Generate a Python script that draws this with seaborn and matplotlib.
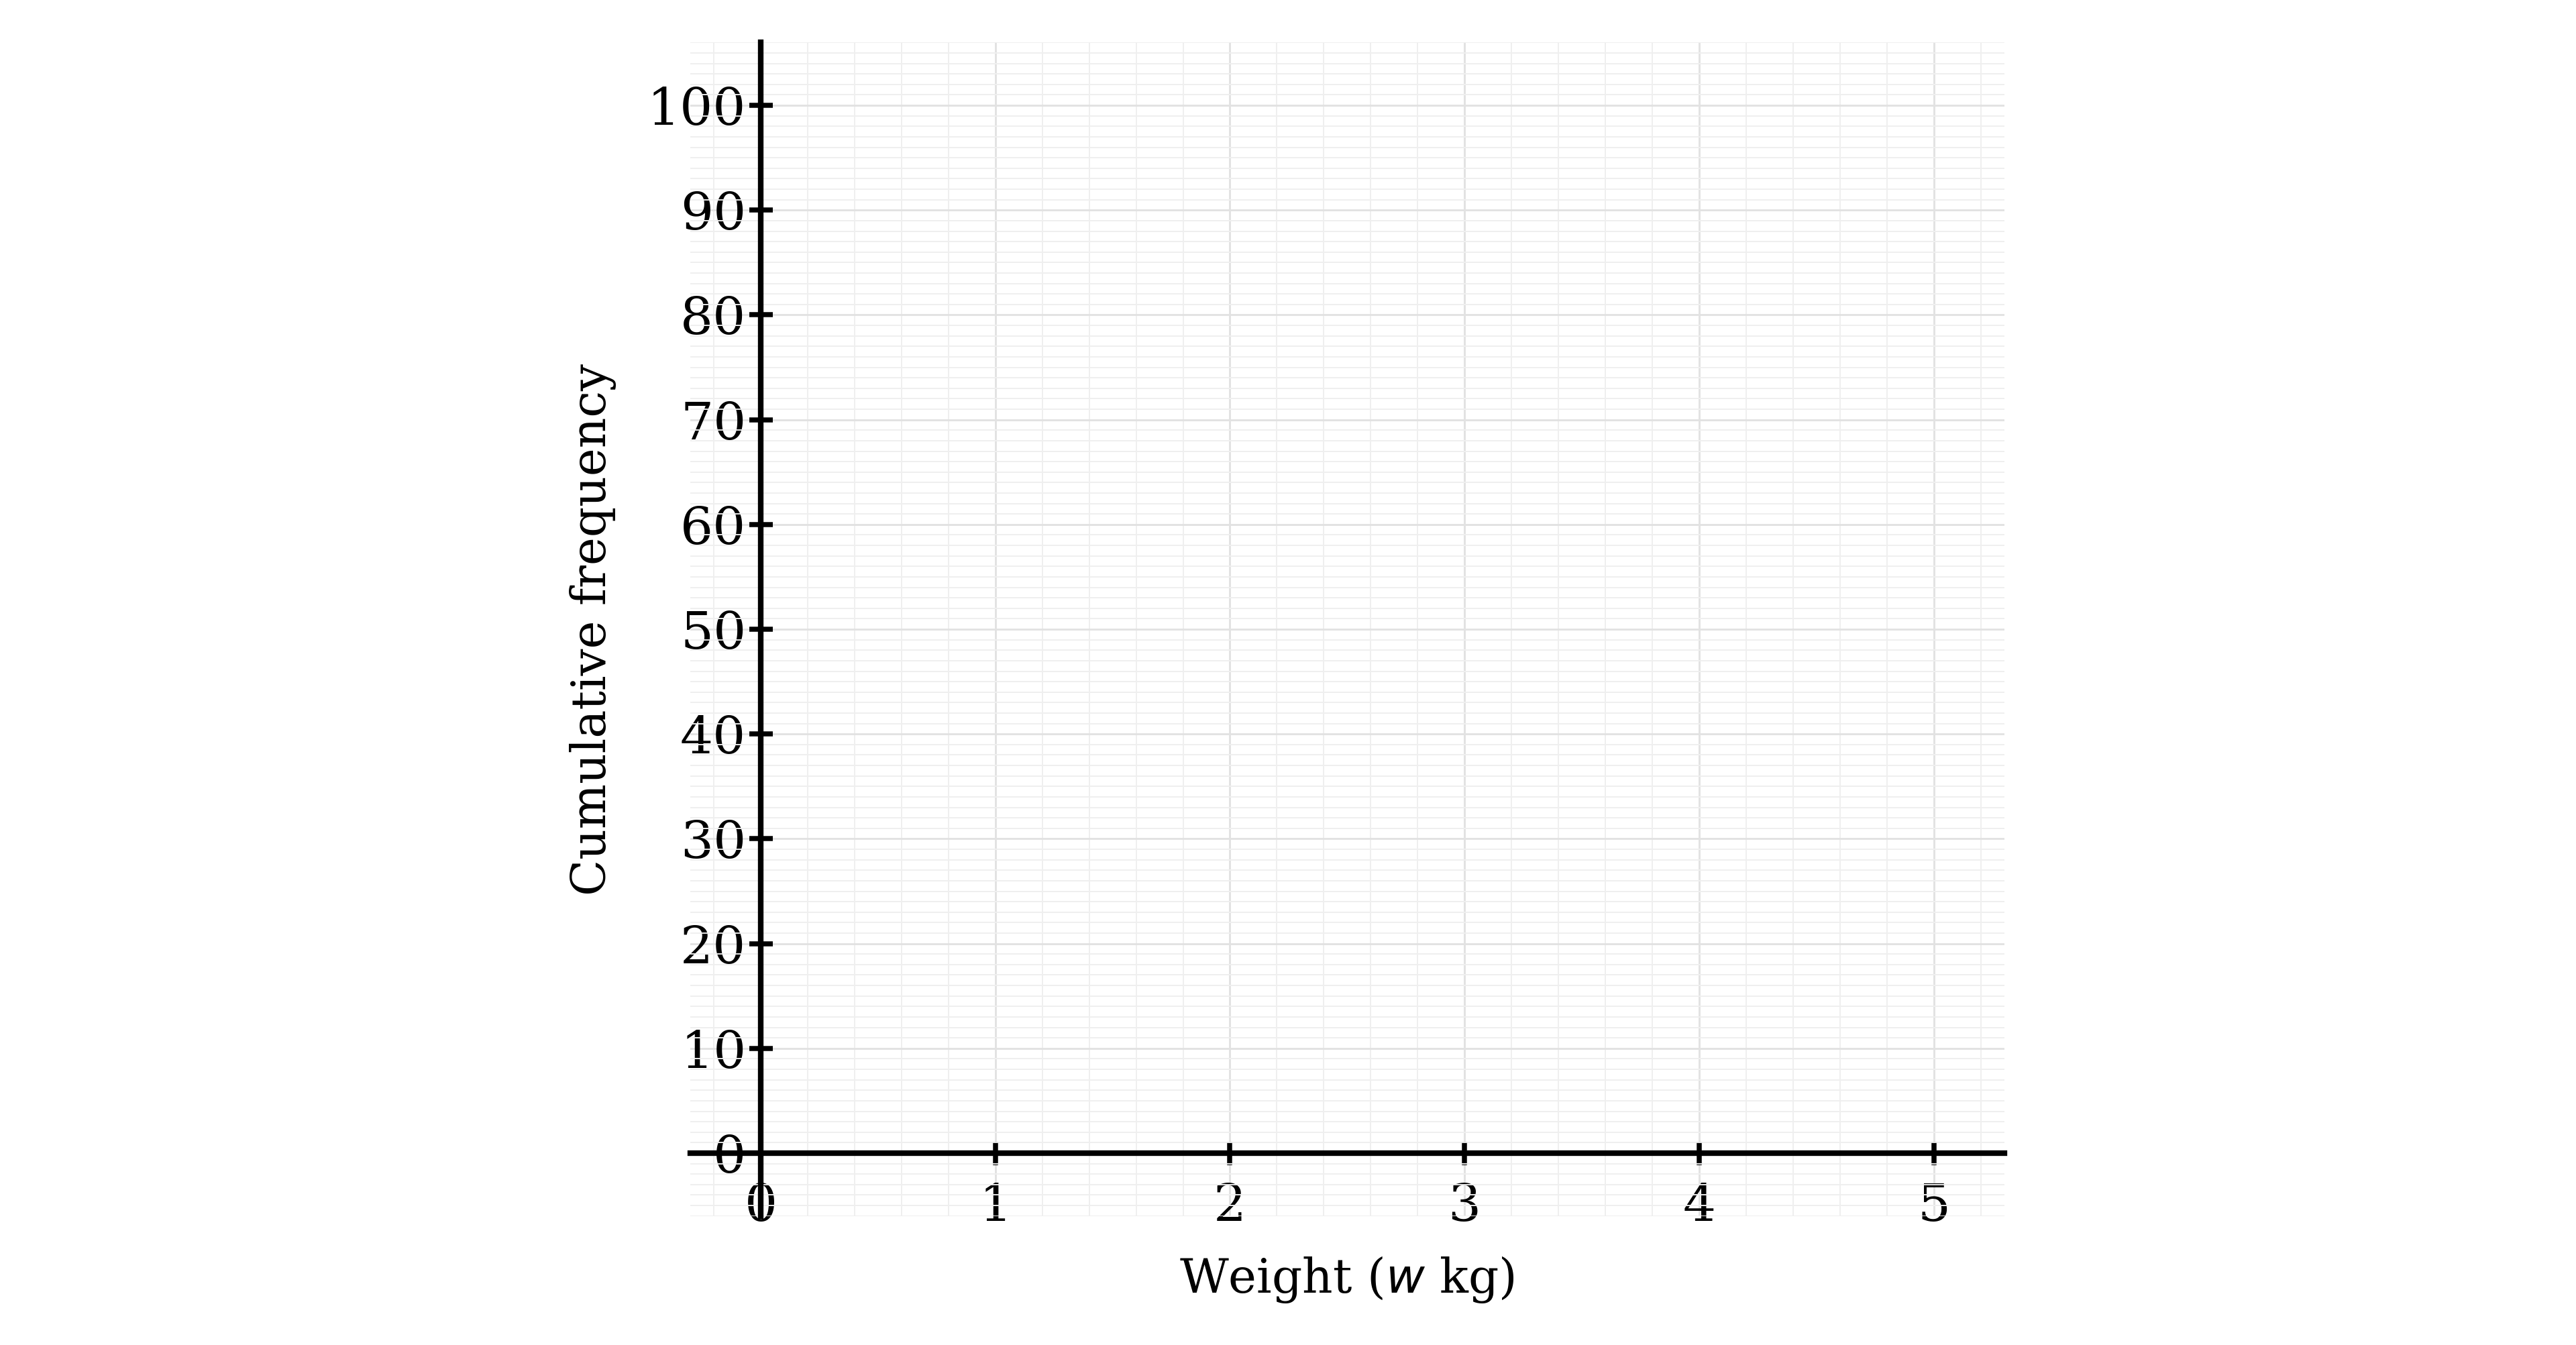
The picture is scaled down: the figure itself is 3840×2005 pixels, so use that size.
import numpy as np
import seaborn as sns
from matplotlib import pyplot as plt
from matplotlib.ticker import MultipleLocator

# axis setup (blank cumulative frequency grid)
x_ticks = [0, 1, 2, 3, 4, 5]
y_ticks = [0, 10, 20, 30, 40, 50, 60, 70, 80, 90, 100]
x_limits = [-0.3, 5.3]
y_limits = [-6, 106]
x_minor_step = 0.2
y_minor_step = 1
x_label = 'Weight ($w$ kg)'
y_label = 'Cumulative frequency'

sns.set_theme(style='white')
plt.rcParams['font.family'] = ['DejaVu Serif']
plt.rcParams['mathtext.fontset'] = 'dejavusans'

fig = plt.figure(figsize=(12.8, 2005 / 300), dpi=300)
ax = fig.add_axes([0.268, 0.0959, 0.51, 0.8725])

# empty plot, only the scales are used
sns.lineplot(x=np.array([], dtype=float), y=np.array([], dtype=float), ax=ax)

ax.set_xlim(x_limits)
ax.set_ylim(y_limits)
ax.set_xticks(x_ticks)
ax.set_yticks(y_ticks)
ax.xaxis.set_minor_locator(MultipleLocator(x_minor_step))
ax.yaxis.set_minor_locator(MultipleLocator(y_minor_step))

ax.grid(which='major', color='#e2e2e2', linewidth=0.7)
ax.grid(which='minor', color='#efefef', linewidth=0.45)
ax.set_axisbelow(True)

sns.despine(ax=ax)
ax.spines['left'].set_position(('data', 0))
ax.spines['bottom'].set_position(('data', 0))
for s in ['left', 'bottom']:
    ax.spines[s].set_color('black')
    ax.spines[s].set_linewidth(2)
    ax.spines[s].set_capstyle('projecting')
    ax.spines[s].set_zorder(3)

ax.tick_params(which='major', direction='inout', length=8.4, width=1.8,
               color='black', labelsize=18.5, labelcolor='black')
ax.tick_params(axis='y', which='major', pad=1, left=True)
ax.tick_params(axis='x', which='major', pad=6, bottom=True)
ax.tick_params(which='minor', length=0)

ax.set_xlabel(x_label, fontsize=17, color='black', va='center')
ax.set_ylabel(y_label, fontsize=17, color='black', va='center')
ax.xaxis.set_label_coords(0.5, -0.054)
ax.yaxis.set_label_coords(-0.074, 0.5)

fig.savefig('out.png', dpi=300, facecolor='white')
